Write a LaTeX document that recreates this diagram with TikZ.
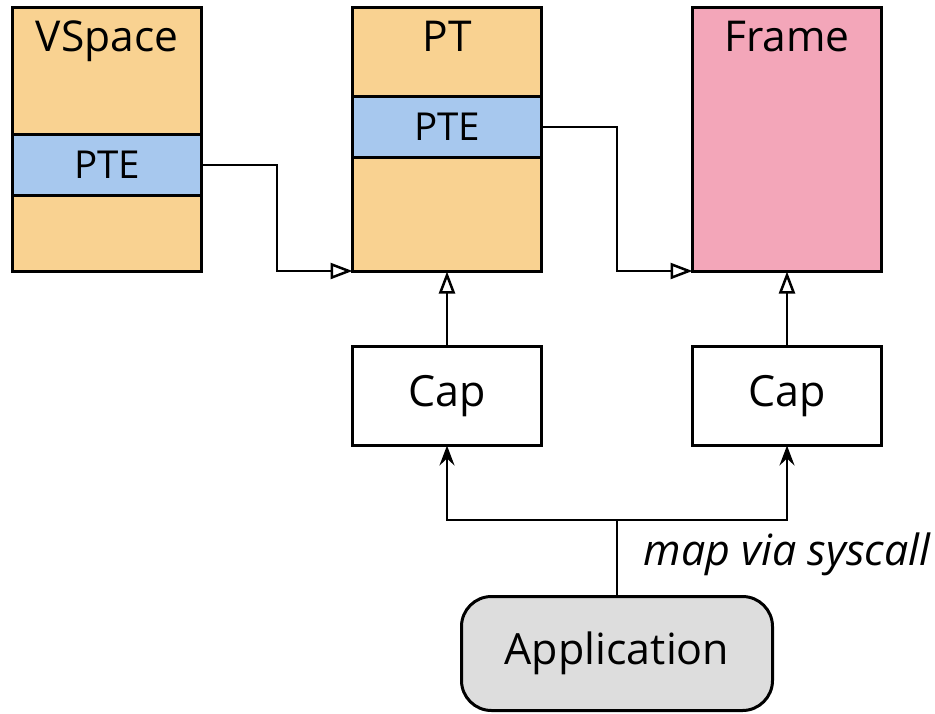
\documentclass[tikz,border=0pt]{standalone}
\usepackage{fontspec}
\setmainfont{Open Sans}
\usetikzlibrary{arrows.meta}
\definecolor{orangefill}{HTML}{F9D291}
\definecolor{bluefill}{HTML}{A7C8EE}
\definecolor{pinkfill}{HTML}{F3A6B9}
\definecolor{grayfill}{HTML}{DDDDDD}
\tikzset{
  box/.style={draw=black, line width=3pt, inner sep=0pt, outer sep=0pt, minimum width=189pt},
  bigbox/.style={box, fill=orangefill, minimum height=264pt},
  band/.style={box, fill=bluefill, minimum height=61pt, font=\fontsize{38.5}{44}\selectfont},
  capbox/.style={box, fill=white, minimum height=99pt, font=\fontsize{43}{48}\selectfont},
  title/.style={inner sep=0pt, font=\fontsize{42.5}{48}\selectfont},
  conn/.style={line width=2.5pt},
  opentip/.style={conn, -{Triangle[open, length=22pt, width=16pt, line width=2.5pt]}},
  sharptip/.style={conn, -{Stealth[length=20pt, width=15pt, inset=7pt]}},
}
\begin{document}
\begin{tikzpicture}[x=1pt, y=-1pt]
\useasboundingbox (0,0) rectangle (935,713);
% VSpace
\node[bigbox] (vs) at (107,139.5) {};
\node[band] (vspte) at (107,165) {PTE};
\node[title, anchor=base] (vst) at (107,51) {VSpace};
% PT
\node[bigbox] (pt) at (447,139.5) {};
\node[band] (ptpte) at (447,127) {PTE};
\node[title, anchor=base] (ptt) at (447,51) {PT};
% Frame
\node[bigbox, fill=pinkfill] (fr) at (787,139.5) {};
\node[title, anchor=base] (frt) at (787,51) {Frame};
% Caps
\node[capbox] (cap1) at (447,396) {Cap};
\node[capbox] (cap2) at (787,396) {Cap};
% Application
\node[draw=black, line width=3pt, fill=grayfill, rounded corners=30pt, minimum width=311pt, minimum height=114pt, inner sep=0pt, outer sep=0pt, font=\fontsize{43}{48}\selectfont] (app) at (617,653.5) {Application};
\node[inner sep=0pt, font=\itshape\fontsize{43}{48}\selectfont] (lbl) at (787,554) {map via syscall};
% connectors
\coordinate (b1) at (277,271);
\coordinate (b2) at (617,271);
\draw[opentip] (vspte.east) -| (b1) -- (b1 -| pt.west);
\draw[opentip] (ptpte.east) -| (b2) -- (b2 -| fr.west);
\draw[opentip] (cap1.north) -- (pt.south);
\draw[opentip] (cap2.north) -- (fr.south);
\coordinate (split) at (617,520);
\draw[conn] (app.north) -- (split);
\draw[sharptip] (split) -| (cap1.south);
\draw[sharptip] (split) -| (cap2.south);
\end{tikzpicture}
\end{document}
